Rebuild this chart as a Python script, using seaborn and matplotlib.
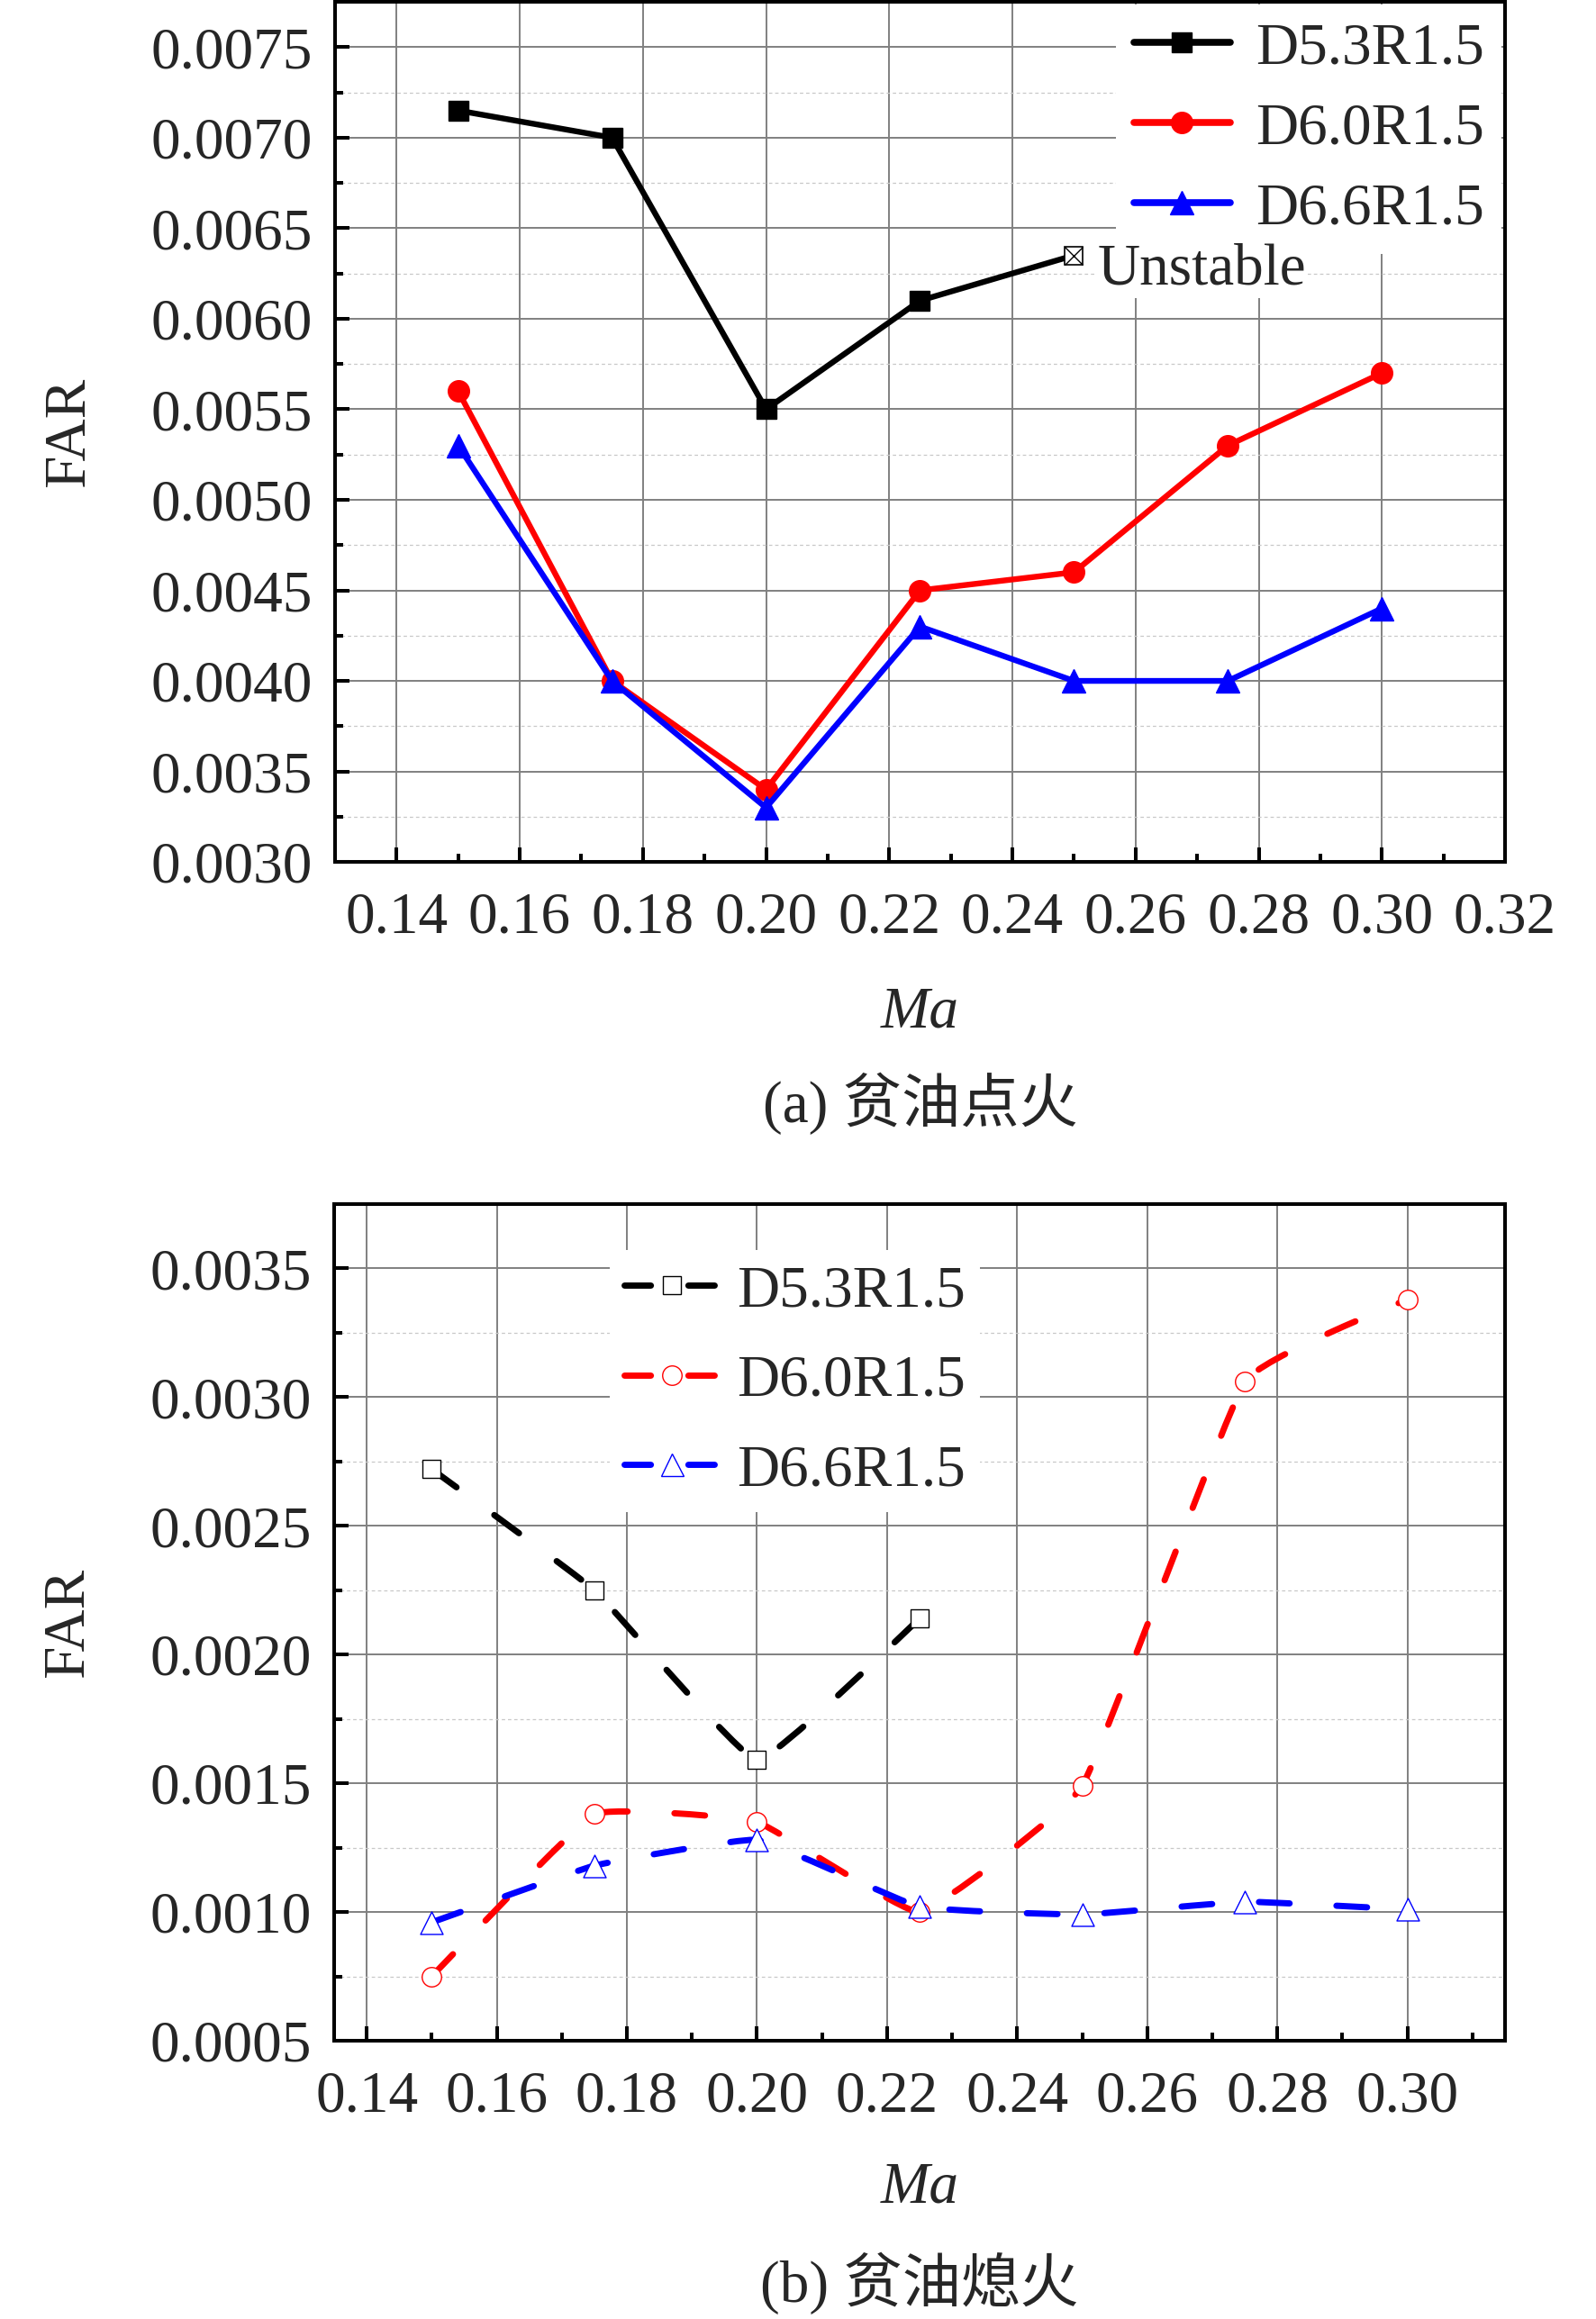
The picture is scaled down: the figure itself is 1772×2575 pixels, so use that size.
import numpy as np
import pandas as pd
import seaborn as sns
import matplotlib
matplotlib.use("Agg")
import matplotlib.pyplot as plt
from matplotlib.lines import Line2D
from matplotlib.path import Path
from matplotlib.patches import PathPatch
from matplotlib.ticker import MultipleLocator, FormatStrFormatter

# (a) lean ignition
ma_ign = [0.15, 0.175, 0.20, 0.225, 0.25, 0.275, 0.30]
far_ign_d53 = [0.00715, 0.00700, 0.00550, 0.00610, 0.00635]
far_ign_d60 = [0.00560, 0.00400, 0.00340, 0.00450, 0.00460, 0.00530, 0.00570]
far_ign_d66 = [0.00530, 0.00400, 0.00330, 0.00430, 0.00400, 0.00400, 0.00440]

# (b) lean blowout
ma_lbo = [0.15, 0.175, 0.20, 0.225, 0.25, 0.275, 0.30]
far_lbo_d53 = [0.00272, 0.00225, 0.00159, 0.00214]
far_lbo_d60 = [0.00075, 0.00138, 0.00135, 0.00100, 0.00149, 0.00306, 0.00338]
far_lbo_d66 = [0.00096, 0.00118, 0.00128, 0.00102, 0.00099, 0.00104, 0.00101]

names = ["D5.3R1.5", "D6.0R1.5", "D6.6R1.5"]
colors = ["black", "red", "blue"]
markers = ["s", "o", "^"]

FS = 47
SERIF = ["Liberation Serif", "Noto Sans CJK SC"]

sns.set_style("ticks")
plt.rcParams["font.family"] = SERIF


def spline_path(xs, ys, k=0.3):
    # lightly smoothed connection (bezier) through the measured points
    pts = np.column_stack([xs, ys])
    n = len(pts)
    verts = [pts[0]]
    codes = [Path.MOVETO]
    for i in range(n - 1):
        p0 = pts[i - 1] if i > 0 else pts[i]
        p1, p2 = pts[i], pts[i + 1]
        p3 = pts[i + 2] if i + 2 < n else pts[i + 1]
        verts += [p1 + k * (p2 - p0) / 6, p2 - k * (p3 - p1) / 6, p2]
        codes += [Path.CURVE4] * 3
    return Path(verts, codes)


def style_axes(ax, xlim, ylim):
    ax.set_xlim(*xlim)
    ax.set_ylim(*ylim)
    ax.xaxis.set_major_locator(MultipleLocator(0.02))
    ax.xaxis.set_minor_locator(MultipleLocator(0.01))
    ax.yaxis.set_major_locator(MultipleLocator(0.0005))
    ax.yaxis.set_minor_locator(MultipleLocator(0.00025))
    ax.xaxis.set_major_formatter(FormatStrFormatter("%.2f"))
    ax.yaxis.set_major_formatter(FormatStrFormatter("%.4f"))
    ax.set_axisbelow(True)
    ax.grid(which="major", color="#808080", lw=1.4, ls="-")
    ax.yaxis.grid(which="minor", color="#c8c8c8", lw=0.9, ls=(0, (3, 2.5)))
    for s in ax.spines.values():
        s.set_linewidth(2.9)
        s.set_color("black")
    ax.tick_params(which="both", direction="in", width=2.9, color="black",
                   top=False, right=False, labelsize=FS)
    ax.tick_params(which="major", length=11.5)
    ax.tick_params(which="minor", length=6.5)
    ax.tick_params(axis="y", pad=18)
    ax.tick_params(axis="x", pad=24)
    ax.set_xlabel("")
    ax.set_ylabel("")


def labels(ax, cap, ma_y, cap_y):
    ax.text(-0.227, 0.5, "FAR", rotation=90, ha="center", va="center",
            fontsize=FS, transform=ax.transAxes)
    ax.text(0.5, ma_y, "Ma", style="italic", ha="center", va="center",
            fontsize=FS, transform=ax.transAxes)
    ax.text(0.5, cap_y, cap, ha="center", va="center", fontsize=FS,
            family=SERIF, transform=ax.transAxes)


fig = plt.figure(figsize=(17.72, 25.75), dpi=100)

# ---------- (a) ----------
ax1 = fig.add_axes([0.2099, 0.6283, 0.7331, 0.3709])
ign_series = [far_ign_d53, far_ign_d60, far_ign_d66]
ign_ms = [16, 17, 19]
for vals, c, m, ms in zip(ign_series, colors, markers, ign_ms):
    n = len(vals)
    every = list(range(n - 1)) if n == 5 else None
    sns.lineplot(x=ma_ign[:n], y=vals, ax=ax1, color=c, lw=4.6, marker=m,
                 ms=ms, mec=c, mfc=c, mew=1, markevery=every, zorder=3)
# unstable point: crossed box
ax1.plot(ma_ign[4], far_ign_d53[4], marker="s", ms=14, mfc="white",
         mec="black", mew=1.2, ls="none", zorder=4)
ax1.plot(ma_ign[4], far_ign_d53[4], marker="x", ms=14, mec="black",
         mew=1.0, ls="none", zorder=5)
ax1.annotate("Unstable", xy=(ma_ign[4], far_ign_d53[4]), xytext=(19, -12),
             textcoords="offset points", ha="left", va="center", fontsize=FS,
             bbox=dict(facecolor="white", edgecolor="none", pad=1), zorder=6)
style_axes(ax1, (0.13, 0.32), (0.0030, 0.00775))
h1 = [Line2D([], [], color=c, lw=5.5, marker=m, ms=ms, mec=c, mfc=c)
      for c, m, ms in zip(colors, markers, ign_ms)]
leg1 = ax1.legend(h1, names, loc="upper right", bbox_to_anchor=(0.997, 0.997),
                  fontsize=FS, frameon=True, fancybox=False, framealpha=1,
                  facecolor="white", edgecolor="none", borderaxespad=0,
                  borderpad=0.3, handlelength=1.64, handletextpad=0.43,
                  labelspacing=0.45)
labels(ax1, "(a) 贫油点火", -0.175, -0.281)

# ---------- (b) ----------
ax2 = fig.add_axes([0.2094, 0.1200, 0.7336, 0.3608])
lbo_series = [far_lbo_d53, far_lbo_d60, far_lbo_d66]
lbo_ms = [14.5, 15.5, 18]
for vals, c, m, ms in zip(lbo_series, colors, markers, lbo_ms):
    n = len(vals)
    patch = PathPatch(spline_path(ma_lbo[:n], vals), facecolor="none",
                      edgecolor=c, lw=5, linestyle=(0, (4.9, 7.5)),
                      capstyle="round", joinstyle="round", zorder=2)
    ax2.add_patch(patch)
    sns.scatterplot(x=ma_lbo[:n], y=vals, ax=ax2, marker=m, s=ms ** 2,
                    color="white", edgecolor=c, linewidth=1.0, zorder=4)
style_axes(ax2, (0.135, 0.315), (0.0005, 0.00375))
h2 = [Line2D([], [], color=c, lw=5, dashes=(4.2, 6.0), dash_capstyle="round",
             marker=m, ms=ms, mec=c, mfc="white", mew=1.0)
      for c, m, ms in zip(colors, markers, lbo_ms)]
leg2 = ax2.legend(h2, names, loc="upper left", bbox_to_anchor=(0.235, 0.945),
                  fontsize=FS, frameon=True, fancybox=False, framealpha=1,
                  facecolor="white", edgecolor="none", borderaxespad=0,
                  borderpad=0.25, handlelength=1.62, handletextpad=0.3,
                  labelspacing=0.61)
labels(ax2, "(b) 贫油熄火", -0.176, -0.290)

fig.savefig("out.png", dpi=100, facecolor="white")
